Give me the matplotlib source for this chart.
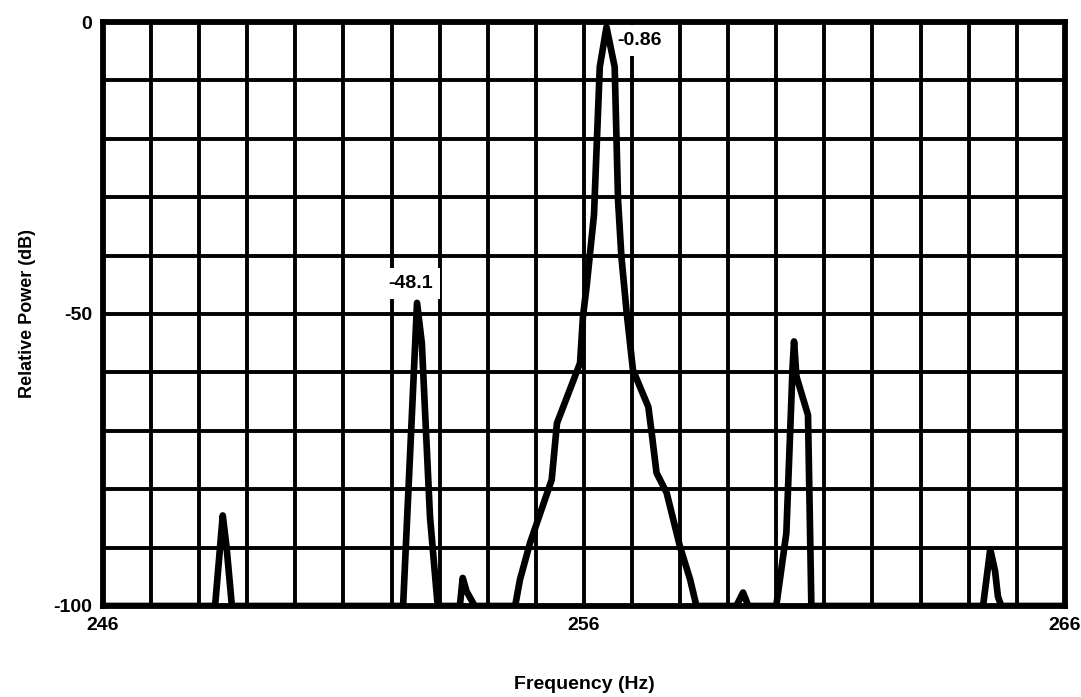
import matplotlib
matplotlib.use('Agg')
import matplotlib.pyplot as plt
from matplotlib.ticker import MultipleLocator

plt.rcParams['font.family'] = ['Liberation Sans', 'DejaVu Sans']
plt.rcParams['font.weight'] = 'bold'
plt.rcParams['axes.unicode_minus'] = False

# spectrum trace (Hz, dB), floor at -100 dB between the lines
freq = [246.0, 248.33, 248.49, 248.57, 248.68,
        252.24, 252.53, 252.63, 252.80, 252.96,
        253.42, 253.48, 253.56, 253.73,
        254.57, 254.67, 254.88, 255.33, 255.44, 255.92, 255.98, 256.06, 256.21,
        256.33, 256.47, 256.64, 256.71, 256.78, 256.89, 257.02, 257.34, 257.41,
        257.51, 257.72, 258.00, 258.21, 258.34,
        259.17, 259.31, 259.42,
        260.00, 260.21, 260.34, 260.37, 260.42, 260.66, 260.73,
        264.30, 264.45, 264.55, 264.61, 264.68, 266.0]
power = [-100, -100, -84.5, -90, -100,
         -100, -48.1, -55, -84.8, -100,
         -100, -95.2, -97.5, -100,
         -100, -95.5, -89.2, -78.4, -68.7, -58.4, -50.5, -45.0, -33.0,
         -7.7, -0.86, -7.7, -30.5, -40.2, -49.8, -59.6, -65.9, -70.4,
         -77.2, -80.6, -89.9, -95.5, -100,
         -100, -97.7, -100,
         -100, -87.5, -59.0, -54.7, -60.7, -67.3, -100,
         -100, -90.3, -94.0, -98.4, -100, -100]

# peak annotations (text, x, y)
peak_labels = ['-48.1', '-0.86']
label_x = [252.40, 257.16]
label_y = [-44.8, -3.2]

x_ticks = [246, 256, 266]
y_ticks = [0, -50, -100]

fig = plt.figure(figsize=(10.81, 6.97), dpi=100)
ax = fig.add_axes([0.0953, 0.1306, 0.8897, 0.8378])

ax.plot(freq, power, color='black', lw=4.8, solid_joinstyle='round',
        solid_capstyle='round', zorder=4)

ax.set_xlim(246, 266)
ax.set_ylim(-100, 0)
ax.set_xticks(x_ticks)
ax.set_yticks(y_ticks)
ax.xaxis.set_minor_locator(MultipleLocator(1))
ax.yaxis.set_minor_locator(MultipleLocator(10))
ax.grid(True, which='both', color='black', lw=2.8)
ax.set_axisbelow(True)
ax.tick_params(which='both', length=0)
ax.tick_params(axis='x', pad=8, labelsize=14)
ax.tick_params(axis='y', pad=8, labelsize=14)
for lab in ax.get_xticklabels() + ax.get_yticklabels():
    lab.set_fontweight('bold')

for sp in ax.spines.values():
    sp.set_linewidth(4.2)
    sp.set_zorder(5)

for txt, x, y in zip(peak_labels, label_x, label_y):
    ax.text(x, y, txt, ha='center', va='center', fontsize=14, fontweight='bold',
            zorder=3, bbox=dict(facecolor='white', edgecolor='none', pad=5))

ax.set_xlabel('Frequency (Hz)', fontsize=14, fontweight='bold', labelpad=30)
ax.set_ylabel('Relative Power (dB)', fontsize=13, fontweight='bold', labelpad=12)

fig.savefig('out.png', dpi=100)
